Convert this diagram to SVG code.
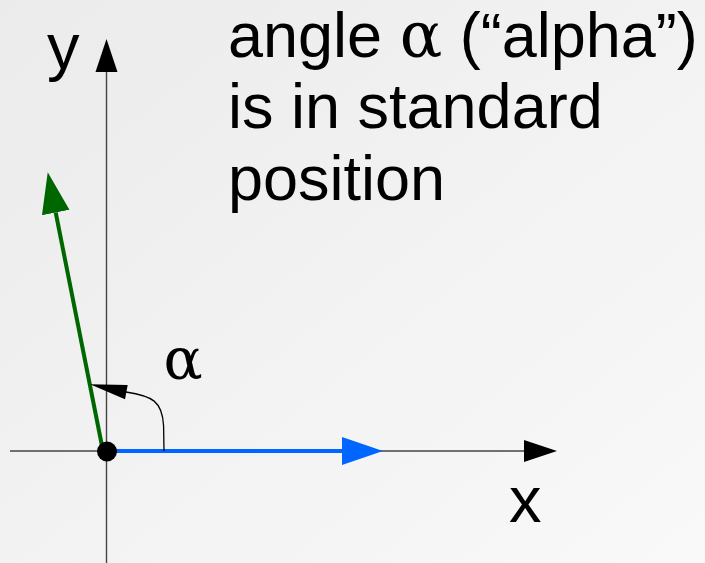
<svg xmlns="http://www.w3.org/2000/svg" width="705" height="563" viewBox="0 0 705 563">
  <defs>
    <linearGradient id="bg" x1="0" y1="0" x2="1" y2="1">
      <stop offset="0" stop-color="#ebebeb"/>
      <stop offset="1" stop-color="#f9f9f9"/>
    </linearGradient>
    <marker id="axisHead" markerUnits="userSpaceOnUse" markerWidth="34" markerHeight="24" viewBox="0 -12 34 24" refX="0" refY="0" orient="auto">
      <path d="M0,-11 L33,0 L0,11 z" fill="#000"/>
    </marker>
    <marker id="blueHead" markerUnits="userSpaceOnUse" markerWidth="42" markerHeight="30" viewBox="0 -15 42 30" refX="0" refY="0" orient="auto">
      <path d="M0,-14 L41,0 L0,14 z" fill="#0066ff"/>
    </marker>
    <marker id="greenHead" markerUnits="userSpaceOnUse" markerWidth="42" markerHeight="30" viewBox="0 -15 42 30" refX="0" refY="0" orient="auto">
      <path d="M0,-14 L41,0 L0,14 z" fill="#006600"/>
    </marker>
  </defs>
  <style>
    .axis { stroke: #444; stroke-width: 1.4; fill: none; }
    .label { font-family: "Liberation Sans", Arial, sans-serif; fill: #000; }
    .greek { font-family: "DejaVu Serif", "Liberation Serif", serif; }
  </style>
  <rect width="705" height="563" fill="url(#bg)"/>

  <g id="connectors">
    <line id="x-axis" class="axis" x1="10" y1="451" x2="524" y2="451" marker-end="url(#axisHead)"/>
    <line id="y-axis" class="axis" x1="106.5" y1="563" x2="106.5" y2="72" marker-end="url(#axisHead)"/>
    <line id="blue-vector" x1="107" y1="451" x2="342" y2="451" stroke="#0066ff" stroke-width="4" marker-end="url(#blueHead)"/>
    <line id="green-vector" x1="103" y1="451" x2="55.7" y2="212.5" stroke="#006600" stroke-width="4" marker-end="url(#greenHead)"/>
    <path id="angle-arc" d="M164,451 L163.6,426 C162.5,401 152,396 126,392" fill="none" stroke="#000" stroke-width="1.3"/>
    <polygon id="angle-arrow" points="90,384.3 127.7,385 125,399.3" fill="#000"/>
  </g>

  <g id="origin">
    <circle cx="107" cy="451.5" r="10" fill="#000"/>
  </g>

  <g id="alpha-label">
    <text class="label greek" x="163.5" y="379" font-size="58">α</text>
  </g>
  <g id="y-label">
    <text class="label" x="47" y="69" font-size="65">y</text>
  </g>
  <g id="x-label">
    <text class="label" x="509" y="521.5" font-size="65">x</text>
  </g>
  <g id="title">
    <text class="label" font-size="63">
      <tspan x="228" y="56.5">angle <tspan class="greek" font-size="63">α</tspan> (“alpha”)</tspan>
      <tspan x="228" y="128">is in standard</tspan>
      <tspan x="228" y="199.5">position</tspan>
    </text>
  </g>
</svg>
